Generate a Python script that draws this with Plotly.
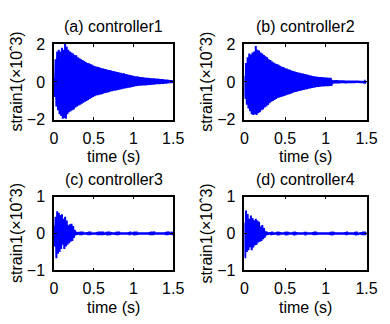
import plotly.graph_objects as go

# time samples (s), one every 0.01 s
t = [round(i * 0.01, 2) for i in range(151)]

# strain1 (x10^3) peak values read at each sample, controller 1..4
s1 = [0.2, -0.8, 1.2, -1.3, 1.6, -1.5, 1.7, -1.7, 1.6, -1.8,
      1.8, -1.95, 1.7, -1.9, 2.0, -1.95, 1.85, -1.7, 1.7, -1.6,
      1.6, -1.55, 1.55, -1.5, 1.5, -1.45, 1.42, -1.35, 1.4, -1.3,
      1.3, -1.25, 1.25, -1.2, 1.2, -1.15, 1.15, -1.1, 1.1, -1.05,
      1.05, -1.0, 1.0, -0.95, 0.98, -0.9, 0.95, -0.85, 0.9, -0.8,
      0.85, -0.76, 0.82, -0.72, 0.8, -0.7, 0.78, -0.68, 0.75, -0.66,
      0.72, -0.64, 0.7, -0.6, 0.68, -0.58, 0.66, -0.56, 0.63, -0.54,
      0.62, -0.5, 0.6, -0.49, 0.58, -0.47, 0.56, -0.46, 0.54, -0.44,
      0.52, -0.42, 0.5, -0.4, 0.48, -0.38, 0.46, -0.36, 0.45, -0.35,
      0.42, -0.33, 0.4, -0.31, 0.38, -0.3, 0.36, -0.28, 0.34, -0.26,
      0.32, -0.24, 0.3, -0.22, 0.29, -0.21, 0.28, -0.2, 0.26, -0.2,
      0.25, -0.19, 0.24, -0.18, 0.23, -0.18, 0.22, -0.17, 0.21, -0.16,
      0.2, -0.16, 0.19, -0.15, 0.18, -0.14, 0.18, -0.13, 0.17, -0.12,
      0.17, -0.12, 0.16, -0.11, 0.15, -0.1, 0.14, -0.1, 0.13, -0.09,
      0.12, -0.08, 0.11, -0.07, 0.1, -0.06, 0.09, -0.05, 0.08, -0.04,
      0.05]

s2 = [0.3, -0.9, 1.0, -1.2, 1.3, -1.4, 1.5, -1.55, 1.45, -1.7,
      1.55, -1.75, 1.6, -1.7, 1.9, -1.75, 1.7, -1.65, 1.65, -1.6,
      1.55, -1.5, 1.5, -1.45, 1.42, -1.35, 1.35, -1.3, 1.3, -1.22,
      1.2, -1.12, 1.15, -1.05, 1.08, -1.0, 1.02, -0.95, 0.97, -0.9,
      0.94, -0.85, 0.9, -0.82, 0.85, -0.8, 0.8, -0.77, 0.78, -0.74,
      0.72, -0.7, 0.7, -0.67, 0.67, -0.65, 0.64, -0.62, 0.6, -0.58,
      0.57, -0.55, 0.55, -0.53, 0.52, -0.5, 0.5, -0.48, 0.48, -0.46,
      0.45, -0.44, 0.44, -0.42, 0.41, -0.4, 0.4, -0.38, 0.37, -0.36,
      0.35, -0.34, 0.33, -0.32, 0.31, -0.3, 0.3, -0.29, 0.28, -0.27,
      0.27, -0.26, 0.26, -0.25, 0.25, -0.24, 0.24, -0.24, 0.24, -0.23,
      0.23, -0.22, 0.23, -0.22, 0.22, -0.21, 0.22, -0.21, 0.1, -0.08,
      0.08, -0.07, 0.08, -0.07, 0.08, -0.07, 0.07, -0.07, 0.07, -0.06,
      0.07, -0.06, 0.07, -0.06, 0.06, -0.06, 0.06, -0.05, 0.06, -0.05,
      0.06, -0.05, 0.05, -0.05, 0.05, -0.05, 0.05, -0.04, 0.05, -0.04,
      0.05, -0.04, 0.04, -0.04, 0.04, -0.04, 0.04, -0.03, 0.04, -0.03,
      0.03]

s3 = [0.2, -0.35, 0.45, -0.67, 0.6, -0.55, 0.56, -0.5, 0.5, -0.42,
      0.52, -0.3, 0.4, -0.42, 0.45, -0.35, 0.35, -0.3, 0.22, -0.26,
      0.25, -0.22, 0.26, -0.2, 0.2, -0.12, 0.1, -0.05, 0.05, -0.03,
      0.03, -0.02, 0.04, -0.04, 0.05, -0.04, 0.05, -0.02, 0.02, -0.02,
      0.02, -0.02, 0.03, -0.04, 0.05, -0.04, 0.05, -0.03, 0.02, -0.02,
      0.02, -0.02, 0.02, -0.02, 0.03, -0.04, 0.05, -0.04, 0.05, -0.04,
      0.05, -0.04, 0.05, -0.03, 0.02, -0.02, 0.04, -0.05, 0.05, -0.04,
      0.05, -0.04, 0.03, -0.02, 0.02, -0.02, 0.02, -0.03, 0.04, -0.04,
      0.05, -0.04, 0.05, -0.02, 0.02, -0.02, 0.02, -0.02, 0.02, -0.02,
      0.02, -0.02, 0.02, -0.02, 0.03, -0.04, 0.05, -0.02, 0.02, -0.02,
      0.04, -0.05, 0.05, -0.04, 0.05, -0.03, 0.02, -0.02, 0.02, -0.02,
      0.02, -0.02, 0.02, -0.02, 0.02, -0.02, 0.02, -0.02, 0.02, -0.02,
      0.03, -0.04, 0.05, -0.04, 0.05, -0.04, 0.05, -0.02, 0.02, -0.02,
      0.02, -0.02, 0.02, -0.02, 0.02, -0.02, 0.02, -0.02, 0.02, -0.02,
      0.03, -0.04, 0.05, -0.04, 0.05, -0.02, 0.02, -0.03, 0.05, -0.04,
      0.04]

s4 = [0.3, -0.67, 0.62, -0.5, 0.53, -0.45, 0.4, -0.37, 0.49, -0.45,
      0.42, -0.38, 0.36, -0.32, 0.4, -0.3, 0.35, -0.24, 0.32, -0.22,
      0.19, -0.2, 0.23, -0.15, 0.15, -0.11, 0.06, -0.05, 0.04, -0.03,
      0.02, -0.02, 0.03, -0.04, 0.05, -0.03, 0.02, -0.02, 0.02, -0.02,
      0.04, -0.05, 0.05, -0.04, 0.03, -0.02, 0.02, -0.02, 0.02, -0.02,
      0.04, -0.05, 0.05, -0.04, 0.04, -0.02, 0.02, -0.02, 0.02, -0.02,
      0.04, -0.05, 0.05, -0.04, 0.03, -0.02, 0.02, -0.02, 0.02, -0.02,
      0.02, -0.02, 0.02, -0.02, 0.04, -0.05, 0.04, -0.02, 0.02, -0.02,
      0.02, -0.02, 0.02, -0.02, 0.03, -0.04, 0.05, -0.04, 0.05, -0.03,
      0.02, -0.02, 0.02, -0.02, 0.02, -0.02, 0.02, -0.02, 0.02, -0.02,
      0.02, -0.02, 0.02, -0.02, 0.02, -0.03, 0.04, -0.05, 0.05, -0.04,
      0.04, -0.02, 0.02, -0.02, 0.02, -0.02, 0.02, -0.02, 0.02, -0.02,
      0.02, -0.02, 0.02, -0.02, 0.03, -0.04, 0.05, -0.03, 0.02, -0.02,
      0.02, -0.02, 0.02, -0.02, 0.02, -0.03, 0.04, -0.05, 0.05, -0.04,
      0.02, -0.02, 0.02, -0.02, 0.03, -0.04, 0.05, -0.04, 0.05, -0.04,
      0.04]

titles = ["(a) controller1", "(b) controller2", "(c) controller3", "(d) controller4"]
xtick_vals = [0, 0.5, 1, 1.5]
xtick_text = ["0", "0.5", "1", "1.5"]
ytick_top = [-2, 0, 2]
ytick_bot = [-1, 0, 1]

W, H = 390, 324
FONT = "Liberation Sans, Arial, Helvetica, sans-serif"
FS = 16

# panel boxes in pixels: (left, right, top, bottom)
boxes = [(52, 176, 38, 118), (250, 377, 38, 118), (52, 176, 199, 277), (250, 377, 199, 277)]
series = [s1, s2, s3, s4]
yranges = [[-2, 2], [-2, 2], [-1, 1], [-1, 1]]
yticks = [ytick_top, ytick_top, ytick_bot, ytick_bot]

fig = go.Figure()
annotations = []
for k in range(4):
    l, r, tp, bt = boxes[k]
    xa = "x" if k == 0 else f"x{k+1}"
    ya = "y" if k == 0 else f"y{k+1}"
    fig.add_trace(go.Scatter(x=t, y=series[k], mode="lines",
                             line=dict(color="#0000ff", width=2, simplify=False),
                             xaxis=xa, yaxis=ya, showlegend=False,
                             hoverinfo="skip"))
    axcommon = dict(showline=True, linecolor="black", linewidth=1.5, mirror="ticks",
                    ticks="inside", ticklen=3, tickwidth=1, tickcolor="black",
                    showgrid=False, zeroline=False,
                    tickfont=dict(family=FONT, size=FS, color="black"))
    xname = "xaxis" if k == 0 else f"xaxis{k+1}"
    yname = "yaxis" if k == 0 else f"yaxis{k+1}"
    fig.update_layout(**{
        xname: dict(domain=[l / W, r / W], range=[0, 1.5], anchor=ya,
                    tickvals=xtick_vals, ticktext=xtick_text,
                    ticklabelstandoff=3, **axcommon),
        yname: dict(domain=[1 - bt / H, 1 - tp / H], range=yranges[k], anchor=xa,
                    tickvals=yticks[k], ticklabelstandoff=4, **axcommon),
    })
    cx = (l + r) / 2 / W
    cy = 1 - (tp + bt) / 2 / H
    annotations.append(dict(text=titles[k], x=cx, y=1 - (tp - 18) / H, xref="paper", yref="paper",
                            showarrow=False, xanchor="center", yanchor="middle",
                            font=dict(family=FONT, size=FS, color="black")))
    annotations.append(dict(text="time (s)", x=cx, y=1 - (bt + 39) / H, xref="paper", yref="paper",
                            showarrow=False, xanchor="center", yanchor="middle",
                            font=dict(family=FONT, size=FS, color="black")))
    annotations.append(dict(text="strain1(×10ˆ3)", x=(l - 39) / W, y=cy, xref="paper", yref="paper",
                            showarrow=False, xanchor="center", yanchor="middle", textangle=-90,
                            font=dict(family=FONT, size=FS, color="black")))

fig.update_layout(width=W, height=H, margin=dict(l=0, r=0, t=0, b=0),
                  paper_bgcolor="white", plot_bgcolor="white",
                  annotations=annotations)
fig.write_html("out.html")
